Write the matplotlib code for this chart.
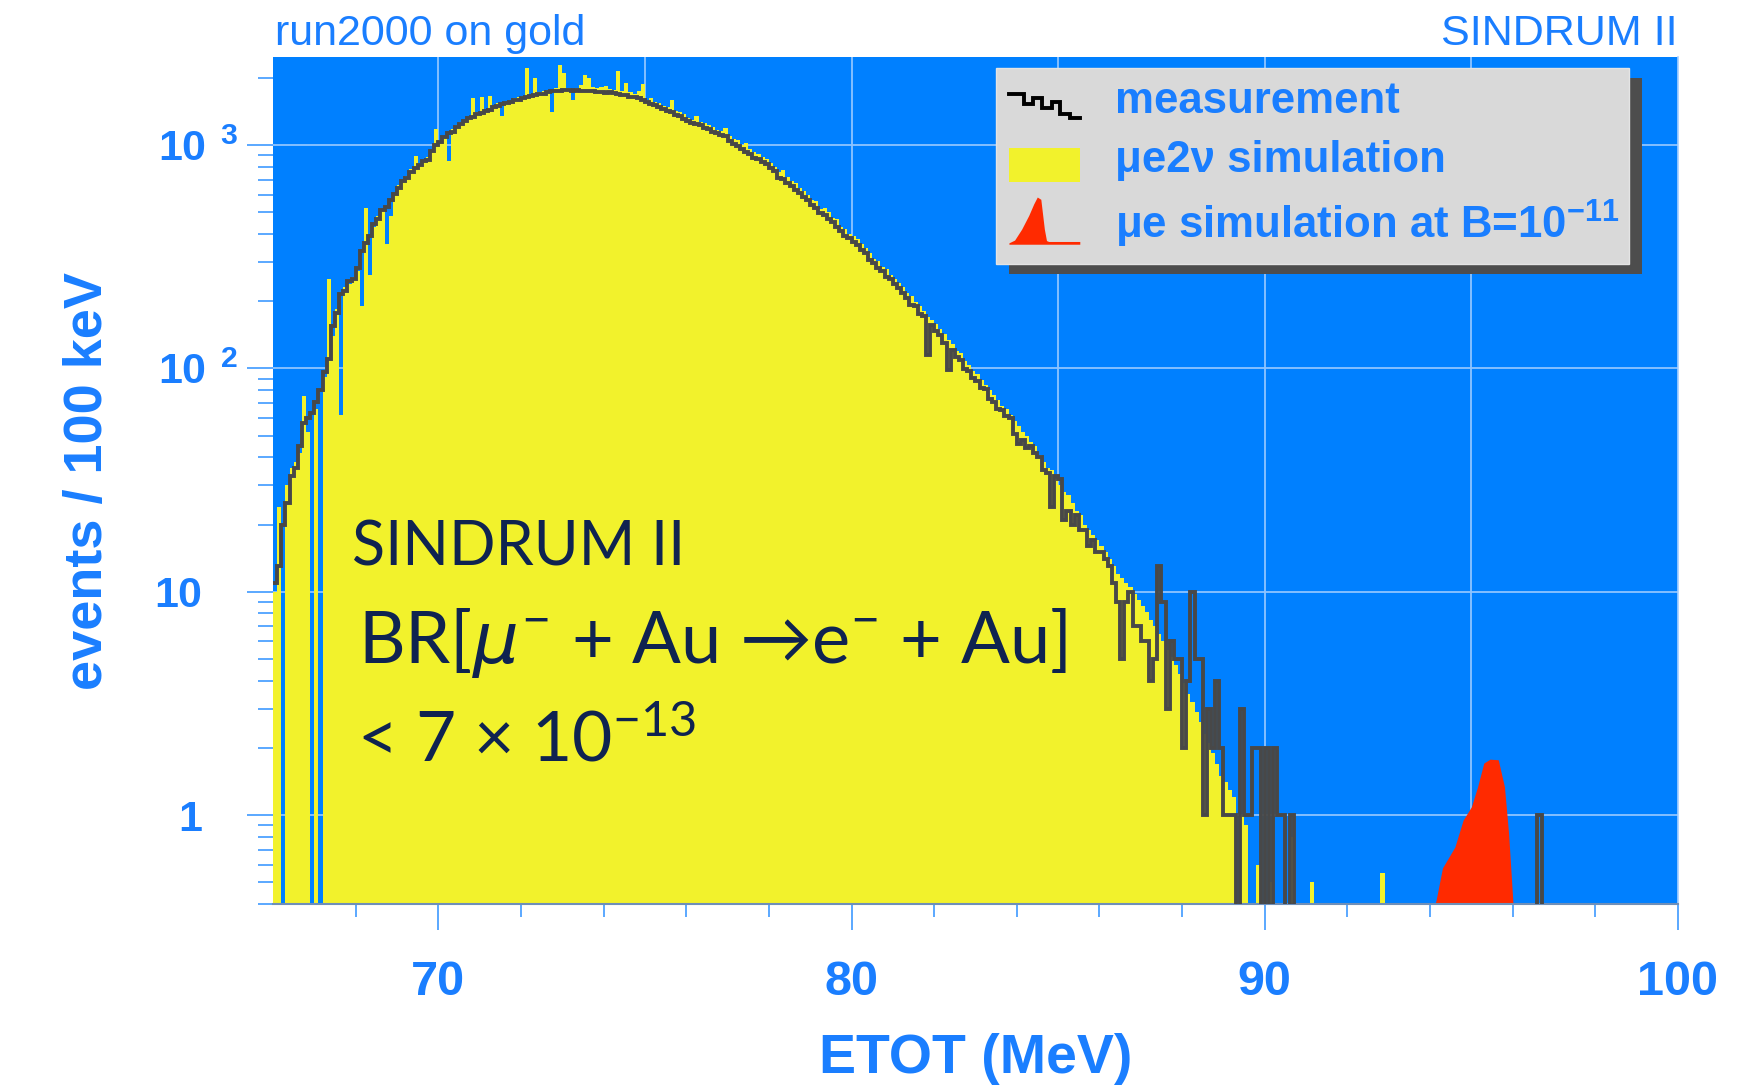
import numpy as np
import matplotlib
matplotlib.use("Agg")
import matplotlib.pyplot as plt
from matplotlib.ticker import FixedLocator, LogLocator, NullFormatter, FixedFormatter
from matplotlib.legend_handler import HandlerBase
from matplotlib.lines import Line2D
from matplotlib.patches import Rectangle, Polygon, Patch
from matplotlib.transforms import IdentityTransform, ScaledTranslation

plt.rcParams['font.family'] = ['Liberation Sans', 'DejaVu Sans']
plt.rcParams['mathtext.fontset'] = 'dejavusans'
plt.rcParams['mathtext.default'] = 'regular'

#---- data: 100 keV bins starting at 66.0 MeV ----
e_start = 66.0
bin_w = 0.1
n_bins = 340

#measurement, one row = 1 MeV
meas_66_71 = [11, 13, 20, 25, 33, 36, 45, 57, 60, 63,
              71, 80, 96, 110, 155, 178, 216, 222, 247, 251,
              283, 335, 366, 392, 443, 466, 514, 527, 565, 603,
              645, 688, 712, 760, 791, 818, 847, 862, 944, 1006,
              1030, 1082, 1133, 1150, 1205, 1248, 1280, 1318, 1335, 1372]
meas_71_76 = [1391, 1425, 1436, 1478, 1498, 1530, 1541, 1556, 1594, 1600,
              1618, 1645, 1652, 1668, 1694, 1702, 1725, 1738, 1751, 1748,
              1762, 1766, 1754, 1760, 1745, 1751, 1738, 1740, 1722, 1731,
              1716, 1721, 1708, 1702, 1684, 1675, 1648, 1640, 1618, 1595,
              1561, 1528, 1505, 1475, 1452, 1426, 1404, 1366, 1345, 1305]
meas_76_81 = [1276, 1254, 1238, 1232, 1196, 1183, 1148, 1134, 1108, 1094,
              1048, 1012, 988, 962, 936, 915, 878, 864, 836, 822,
              788, 762, 716, 704, 676, 655, 627, 612, 585, 566,
              538, 524, 497, 488, 466, 452, 428, 413, 392, 382,
              368, 357, 338, 328, 306, 298, 281, 272, 258, 251]
meas_81_86 = [238, 230, 218, 207, 193, 190, 176, 171, 115, 156,
              147, 141, 130, 98, 121, 113, 109, 99, 97, 91,
              88, 82, 81, 73, 71, 66, 65, 61, 60, 51,
              46, 48, 44, 45, 42, 40, 35, 34, 24, 33,
              32, 21, 23, 20, 22, 19, 19, 16, 17, 15]
meas_86_91 = [15, 14, 13, 11, 9, 5, 9, 10, 7, 7,
              6, 6, 4, 5, 13, 9, 3, 6, 5, 5,
              2, 4, 10, 5, 5, 1, 3, 2, 4, 2,
              1, 1, 1, 0, 3, 1, 1, 2, 2, 0,
              2, 0, 2, 1, 1, 0, 1, 0, 0, 0]
meas_isolated = [(96.6, 1)]

#mu e 2 nu simulation
sim_66_71 = [10, 24, 0, 30, 36, 38, 42, 75, 52, 0,
             66, 0, 92, 252, 140, 185, 62, 232, 240, 256,
             272, 191, 525, 263, 430, 482, 520, 360, 480, 612,
             660, 700, 724, 780, 890, 830, 850, 880, 952, 1175,
             1050, 1100, 850, 1180, 1230, 1270, 1300, 1330, 1620, 1400]
sim_71_76 = [1650, 1440, 1660, 1500, 1540, 1350, 1560, 1580, 1620, 1650,
             1660, 2210, 1680, 2000, 1720, 1750, 1760, 1410, 1800, 2290,
             2100, 1800, 1590, 1800, 1850, 2070, 2000, 1820, 1800, 1820,
             1830, 1790, 1760, 2140, 1750, 1900, 1720, 1700, 1750, 1880,
             1600, 1620, 1560, 1550, 1500, 1480, 1600, 1420, 1400, 1380]
sim_76_81 = [1320, 1290, 1350, 1270, 1260, 1230, 1210, 1170, 1160, 1190,
             1100, 1060, 1050, 1000, 1020, 960, 930, 910, 880, 870,
             830, 800, 760, 770, 720, 690, 680, 640, 620, 600,
             570, 560, 520, 525, 500, 470, 465, 430, 420, 400,
             390, 380, 360, 345, 330, 310, 302, 285, 280, 262]
sim_81_86 = [252, 242, 232, 218, 212, 198, 190, 180, 170, 165,
             158, 150, 142, 134, 128, 120, 117, 108, 104, 97,
             94, 89, 84, 80, 76, 72, 68, 66, 62, 58,
             55, 52, 50, 47, 45, 41, 38, 36, 35, 32,
             30, 28, 27, 25, 23, 22, 20, 19, 18, 17]
sim_86_91 = [16, 15, 14, 13, 12, 11.5, 11, 10.5, 9.8, 9.2,
             8.6, 8.1, 7.5, 7.0, 6.5, 6.0, 5.5, 5.1, 4.7, 4.3,
             3.9, 3.5, 3.2, 2.9, 2.6, 2.3, 2.1, 1.9, 1.7, 1.5,
             1.4, 1.3, 1.2, 0, 1.0, 0.9, 0, 0, 0.6, 0,
             0, 0.5, 0, 0, 0, 0, 0.8, 0, 0, 0]
sim_isolated = [(91.1, 0.5), (92.8, 0.55)]

#mu e signal simulation at B=1e-11
peak_e = [93.95, 94.15, 94.3, 94.6, 94.8, 95.0, 95.15, 95.3, 95.45, 95.65, 95.8, 95.9, 96.05]
peak_n = [0.3, 0.42, 0.58, 0.72, 0.95, 1.09, 1.34, 1.71, 1.78, 1.77, 1.34, 0.83, 0.3]

xtick_major = [70, 80, 90, 100]
xtick_minor = [68, 72, 74, 76, 78, 82, 84, 86, 88, 92, 94, 96, 98]
x_grid = [70, 75, 80, 85, 90, 95]
ytick_vals = [1, 10, 100, 1000]
ytick_labels = [r'$1$', r'$10$', r'$10^{\ \,2}$', r'$10^{\ \,3}$']
ytick_shift_px = [-36, -36, 0, 0]   #bare numbers line up with the "10" of 10^n
leg_labels = ['measurement', 'μe2ν simulation', r'μe simulation at B=10$^{-11}$']

#colors
BG = '#0080ff'
TXT = '#1a7eff'
YEL = '#f2f22c'
LINE = '#484848'
RED = '#ff2a00'
GRID = '#8ec4ff'
TICK = '#5aa8ff'
NAVY = '#0f2350'


#build full arrays
def build(rows, isolated):
    vals = np.zeros(n_bins)
    flat = []
    for r in rows:
        flat = flat + r
    vals[:len(flat)] = flat
    for e, v in isolated:
        vals[int(round((e - e_start) / bin_w))] = v
    return vals


meas = build([meas_66_71, meas_71_76, meas_76_81, meas_81_86, meas_86_91], meas_isolated)
sim = build([sim_66_71, sim_71_76, sim_76_81, sim_81_86, sim_86_91], sim_isolated)
edges = e_start + bin_w * np.arange(n_bins + 1)

#empty bins drop below the axis on the log scale
meas_plot = np.where(meas > 0, meas, 1e-3)
sim_plot = np.where(sim > 0, sim, 1e-3)


#legend icons
class StepHandler(HandlerBase):
    def create_artists(self, legend, orig_handle, xdescent, ydescent, width, height, fontsize, trans):
        fx = np.array([0, .2, .2, .33, .33, .46, .46, .6, .6, .72, .72, .86, .86, 1.0])
        fy = np.array([.9, .9, .5, .5, .75, .75, .35, .35, .6, .6, .15, .15, 0, 0])
        ln = Line2D(fx * width - xdescent, fy * 19 - 3, color='black', lw=2.8,
                    solid_joinstyle='miter', transform=trans)
        return [ln]


class BoxHandler(HandlerBase):
    def create_artists(self, legend, orig_handle, xdescent, ydescent, width, height, fontsize, trans):
        r = Rectangle((-xdescent, -7), width, 24, facecolor=YEL, edgecolor='none', transform=trans)
        return [r]


class PeakHandler(HandlerBase):
    def create_artists(self, legend, orig_handle, xdescent, ydescent, width, height, fontsize, trans):
        fx = np.array([0, .08, .18, .28, .35, .4, .45, .5, .53, .56, 1.0, 1.0, 0])
        fy = np.array([0, .06, .3, .6, .85, 1.0, .95, .3, .05, .03, .03, -.03, -.03])
        pts = np.column_stack([fx * width - xdescent, fy * 33 - 3])
        p = Polygon(pts, closed=True, facecolor=RED, edgecolor='none', transform=trans)
        return [p]


fig = plt.figure(figsize=(17.38, 10.89), dpi=100)
fig.patch.set_facecolor('white')
ax = fig.add_axes([273 / 1738, 1 - 904 / 1089, 1405 / 1738, 847 / 1089])
ax.set_facecolor(BG)

ax.stairs(sim_plot, edges, fill=True, color=YEL, baseline=1e-3, lw=0, zorder=2)
ax.fill_between(peak_e, peak_n, 1e-3, color=RED, lw=0, zorder=2.2)
ax.stairs(meas_plot, edges, color=LINE, lw=2.8, baseline=None, zorder=3)

ax.set_yscale('log')
ax.set_xlim(66, 100)
ax.set_ylim(0.4, 2480)

#grid
ax.set_axisbelow(True)
ax.yaxis.grid(True, which='major', color=GRID, lw=1.3)
for xv in x_grid:
    ax.axvline(xv, color=GRID, lw=1.3, zorder=0.6)

#ticks
ax.xaxis.set_major_locator(FixedLocator(xtick_major))
ax.xaxis.set_minor_locator(FixedLocator(xtick_minor))
ax.yaxis.set_major_locator(FixedLocator(ytick_vals))
ax.yaxis.set_major_formatter(FixedFormatter(ytick_labels))
ax.yaxis.set_minor_locator(LogLocator(base=10, subs=np.arange(2, 10)))
ax.yaxis.set_minor_formatter(NullFormatter())
ax.tick_params(axis='x', which='major', direction='out', length=19, width=1.4, color=TICK,
               labelsize=35, labelcolor=TXT, pad=21)
ax.tick_params(axis='x', which='minor', direction='out', length=9.5, width=1.4, color=TICK)
ax.tick_params(axis='y', which='major', direction='out', length=19, width=1.4, color=TICK,
               labelsize=31, labelcolor=TXT, pad=6)
ax.tick_params(axis='y', which='minor', direction='out', length=11, width=1.4, color=TICK)
for lbl in ax.get_xticklabels() + ax.get_yticklabels():
    lbl.set_fontweight('bold')
for tick, dx in zip(ax.yaxis.get_major_ticks(), ytick_shift_px):
    tick.label1.set_transform(tick.label1.get_transform()
                              + ScaledTranslation(dx / 100, 0, fig.dpi_scale_trans))

for s in ['top', 'left']:
    ax.spines[s].set_visible(False)
ax.spines['right'].set_color('#a8d0ff')
ax.spines['right'].set_linewidth(1.2)
ax.spines['bottom'].set_color('#6f8fb8')
ax.spines['bottom'].set_linewidth(1.5)

ax.set_xlabel('ETOT (MeV)', fontsize=40, color=TXT, weight='bold')
ax.xaxis.set_label_coords(0.5, -0.152)
ax.set_ylabel('events / 100 keV', fontsize=39, color=TXT, weight='bold')
ax.yaxis.set_label_coords(-0.114, 0.5)

#headers
fig.text(275 / 1738, 1 - 45 / 1089, 'run2000 on gold', fontsize=31,
         color=TXT, ha='left', va='baseline')
fig.text(1678 / 1738, 1 - 45 / 1089, 'SINDRUM II', fontsize=31,
         color=TXT, ha='right', va='baseline')

#result text
inner = dict(transform=ax.transAxes, family=['Lato', 'DejaVu Sans'],
             color=NAVY, va='baseline', ha='left', zorder=6)
ax.text(0.056, 0.400, 'SINDRUM II', fontsize=44, **inner)
ax.text(0.0605, 0.2845, r'BR[$\mathit{\mu}^{-}$ + Au →e$^{-}$ + Au]', fontsize=52, **inner)
ax.text(0.0596, 0.168, r'< 7 × 10$^{-13}$', fontsize=50, **inner)

#legend
h_meas = Line2D([], [], color='black')
h_sim = Patch(color=YEL)
h_mue = Patch(color=RED)
leg = ax.legend([h_meas, h_sim, h_mue], leg_labels,
                handler_map={h_meas: StepHandler(), h_sim: BoxHandler(), h_mue: PeakHandler()},
                loc='upper left', bbox_to_anchor=(0.5148, 0.7603, 0.4504, 0.2264), mode='expand',
                borderaxespad=0, prop={'size': 31.5, 'weight': 'bold'}, handlelength=1.62,
                handletextpad=0.8, borderpad=0.3, labelspacing=0.4, frameon=True, fancybox=False,
                facecolor='#d9d9d9', edgecolor='#e4e4e4', framealpha=1, labelcolor=TXT)
leg.set_zorder(7)

#drop shadow under the legend box
fig.canvas.draw()
bb = leg.get_window_extent()
ax.add_patch(Rectangle((bb.x0 + 13, bb.y0 - 10), bb.width, bb.height, transform=IdentityTransform(),
                       facecolor='#4d4d4d', edgecolor='none', zorder=6.9, clip_on=False))

fig.savefig('out.png', dpi=100, facecolor='white')
